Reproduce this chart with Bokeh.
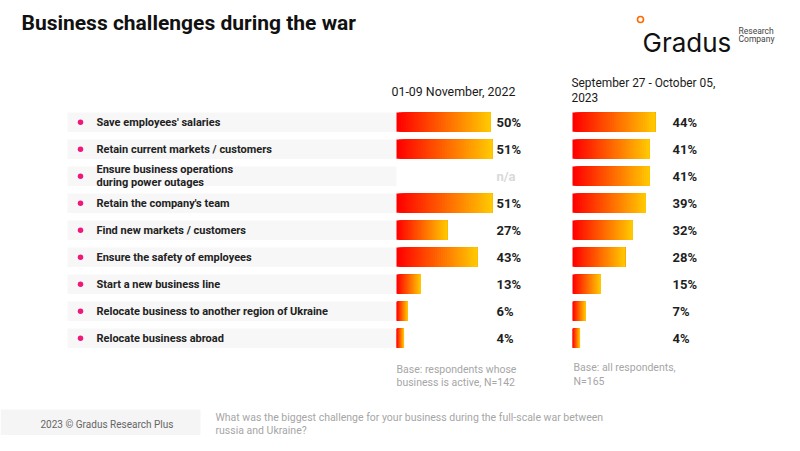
from bokeh.plotting import figure
from bokeh.models import Range1d, ColumnDataSource
from bokeh.core.properties import value
from bokeh.embed import file_html
from bokeh.resources import INLINE

# ---------------- data ----------------
categories = [
    "Save employees' salaries",
    "Retain current markets / customers",
    "Ensure business operations\nduring power outages",
    "Retain the company's team",
    "Find new markets / customers",
    "Ensure the safety of employees",
    "Start a new business line",
    "Relocate business to another region of Ukraine",
    "Relocate business abroad",
]
nov2022 = [50, 51, None, 51, 27, 43, 13, 6, 4]
sep2023 = [44, 41, 41, 39, 32, 28, 15, 7, 4]
period_labels = ["01-09 November, 2022", "September 27 - October 05,\n2023"]
base_notes = ["Base: respondents whose\nbusiness is active, N=142", "Base: all respondents,\nN=165"]
title = "Business challenges during the war"
question = "What was the biggest challenge for your business during the full-scale war between\nrussia and Ukraine?"
copyright_text = "2023 \u00a9 Gradus Research Plus"

# ---------------- figure ----------------
W, H = 784, 435
FONT = value("Roboto")
p = figure(width=W, height=H, output_backend="svg", toolbar_location=None,
           x_range=Range1d(0, W), y_range=Range1d(H, 0), min_border=0)
p.axis.visible = False
p.grid.visible = False
p.outline_line_color = None
p.background_fill_color = "white"
p.border_fill_color = "white"

PX = 1.88          # pixels per percentage point
ROW = 27.0         # pixels per row
ROW0 = 121.7       # pixel y of first row centre
p.extra_y_ranges = {"rows": Range1d(start=(H - ROW0) / ROW, end=-ROW0 / ROW)}
X1, X2 = 396, 572  # bar origins (pixels)
p.extra_x_ranges = {
    "b1": Range1d(start=-X1 / PX, end=(W - X1) / PX),
    "b2": Range1d(start=-X2 / PX, end=(W - X2) / PX),
}

rows = list(range(len(categories)))

# row backgrounds
p.hbar(y=rows, left=67, right=396, height=0.72, y_range_name="rows",
       fill_color="#f7f7f7", line_color=None)

# bullets
p.scatter(x=[80] * len(rows), y=rows, y_range_name="rows", size=5.5,
          fill_color="#f0167a", line_color=None)

# row labels
p.text(x=[96] * len(rows), y=rows, text=categories, y_range_name="rows",
       text_font=FONT, text_font_size="11px", text_font_style="bold",
       text_color="#222222", text_baseline="middle", text_align="left",
       text_line_height=1.0)

# gradient bars
N = 40
c0, c1 = (255, 0, 0), (255, 200, 0)
grad = ["#%02x%02x%02x" % tuple(int(round(a + (b - a) * j / (N - 1))) for a, b in zip(c0, c1))
        for j in range(N)]


def bars(vals, xr):
    ys, ls, rs, cs = [], [], [], []
    for j in range(N):
        for r, v in zip(rows, vals):
            if v is None:
                continue
            ys.append(r)
            ls.append(v * j / N)
            rs.append(v)
            cs.append(grad[j])
    src = ColumnDataSource(dict(y=ys, left=ls, right=rs, color=cs))
    p.hbar(y="y", left="left", right="right", height=0.71, source=src,
           fill_color="color", line_color=None, x_range_name=xr, y_range_name="rows")


bars(nov2022, "b1")
bars(sep2023, "b2")

# value labels
lab1 = [("%d%%" % v) if v is not None else "n/a" for v in nov2022]
col1 = ["#1f1f1f" if v is not None else "#d9d9d9" for v in nov2022]
p.text(x=[496] * len(rows), y=rows, text=lab1, text_color=col1, y_range_name="rows",
       text_font=FONT, text_font_size="13px", text_font_style="bold",
       text_baseline="middle", text_align="left")
lab2 = ["%d%%" % v for v in sep2023]
p.text(x=[672] * len(rows), y=rows, text=lab2, text_color="#1f1f1f", y_range_name="rows",
       text_font=FONT, text_font_size="13px", text_font_style="bold",
       text_baseline="middle", text_align="left")

# title
p.text(x=[21], y=[22.5], text=[title], text_font=FONT, text_font_size="21px",
       text_font_style="bold", text_color="#111111", text_baseline="middle")

# period headers
p.text(x=[391], y=[90.5], text=[period_labels[0]], text_font=FONT, text_font_size="12.4px",
       text_color="#1a1a1a", text_baseline="middle")
p.text(x=[571], y=[90.4], text=[period_labels[1]], text_font=FONT, text_font_size="11.9px",
       text_color="#1a1a1a", text_baseline="middle", text_line_height=1.08)

# base notes
p.text(x=[396, 573], y=[375.5, 373.7], text=base_notes, text_font=FONT,
       text_font_size="10.5px", text_color="#a6a6a6", text_baseline="middle",
       text_line_height=1.05)

# footer
p.quad(left=[0], right=[200], top=[409], bottom=[440], fill_color="#f5f5f5", line_color=None)
p.text(x=[40], y=[424], text=[copyright_text], text_font=FONT, text_font_size="10px",
       text_color="#666666", text_baseline="middle")
p.text(x=[215], y=[423], text=[question], text_font=FONT, text_font_size="10.5px",
       text_color="#a6a6a6", text_baseline="middle", text_line_height=1.0)

# logo
p.scatter(x=[640], y=[19], size=6, marker="circle", fill_color=None,
          line_color="#ff6a00", line_width=1.6)
p.text(x=[642], y=[41.5], text=["Gradus"], text_font=value("Inter"), text_font_size="26px",
       text_color="#111111", text_baseline="alphabetic")
p.text(x=[738, 738], y=[30, 38.5], text=["Research", "Company"], text_font=FONT,
       text_font_size="8.5px", text_color="#444444", text_baseline="middle")

open("out.html", "w").write(file_html(p, INLINE))
